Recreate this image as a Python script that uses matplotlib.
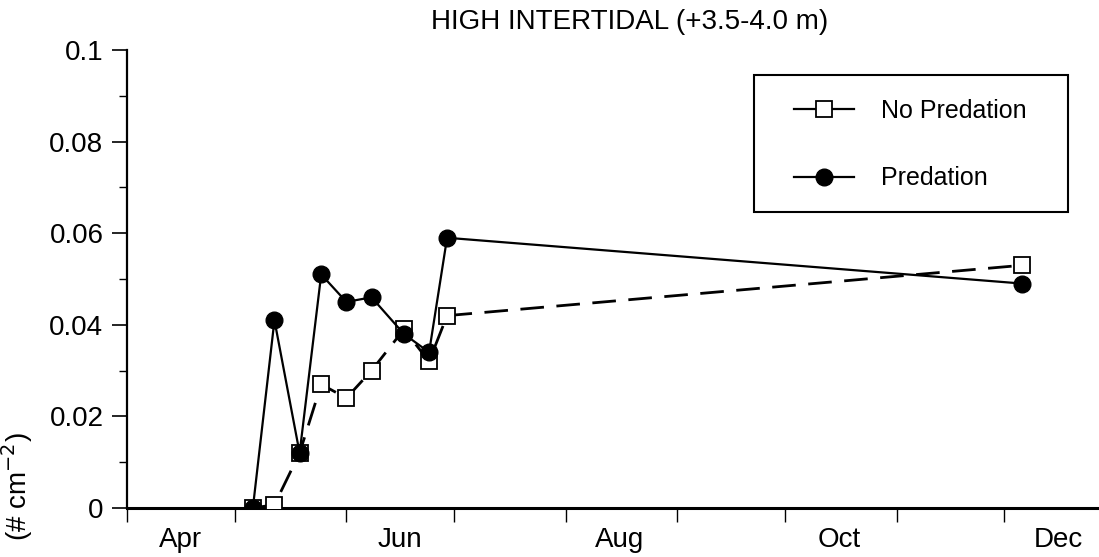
import matplotlib
matplotlib.use("Agg")
import matplotlib.pyplot as plt
import matplotlib.dates as mdates
from matplotlib.lines import Line2D
from matplotlib.patches import Rectangle
from matplotlib.ticker import MultipleLocator, FuncFormatter
from datetime import datetime

plt.rcParams['font.family'] = ['Liberation Sans', 'DejaVu Sans']

YEAR = 1997

# sampling dates (month-day) and recruit densities
sample_dates = ["05-06", "05-12", "05-19", "05-25", "06-01", "06-08",
                "06-17", "06-24", "06-29", "12-06"]
no_predation = [0.0, 0.0007, 0.012, 0.027, 0.024, 0.030, 0.039, 0.032, 0.042, 0.053]
predation = [0.0, 0.041, 0.012, 0.051, 0.045, 0.046, 0.038, 0.034, 0.059, 0.049]

month_labels = ["Apr", "Jun", "Aug", "Oct", "Dec"]
label_months = [4, 6, 8, 10, 12]
y_ticks = [0, 0.02, 0.04, 0.06, 0.08, 0.1]

dates = [datetime.strptime(f"{YEAR}-{d}", "%Y-%m-%d") for d in sample_dates]

fig = plt.figure(figsize=(10.99, 5.57), dpi=100)
ax = fig.add_axes([127 / 1099, 1 - 508 / 557, (1098 - 127) / 1099, (508 - 50) / 557])

ax.plot(dates, no_predation, color='black', lw=2, dashes=(8.5, 4.5),
        marker='s', ms=12, mfc='white', mec='black', mew=1.3, zorder=3)
ax.plot(dates, predation, color='black', lw=1.6, linestyle='-',
        marker='o', ms=12, mfc='black', mec='black', zorder=4)

# axes limits and spines
ax.set_xlim(datetime(YEAR, 4, 1), datetime(YEAR, 12, 27))
ax.set_ylim(0, 0.1)
ax.spines['top'].set_visible(False)
ax.spines['right'].set_visible(False)
ax.spines['left'].set_linewidth(1.6)
ax.spines['bottom'].set_linewidth(2.2)

# month boundaries as ticks, labels centred in alternate months
ax.xaxis.set_major_locator(mdates.MonthLocator())
ax.xaxis.set_major_formatter(plt.NullFormatter())
ax.set_xticks([datetime(YEAR, m, 16) for m in label_months], minor=True)
ax.set_xticklabels(month_labels, minor=True)
ax.tick_params(axis='x', which='major', direction='out', length=10, width=1.0)
ax.tick_params(axis='x', which='minor', length=0, pad=14, labelsize=20)

ax.set_yticks(y_ticks)
ax.yaxis.set_major_formatter(FuncFormatter(lambda v, p: f"{v:g}"))
ax.yaxis.set_minor_locator(MultipleLocator(0.01))
ax.tick_params(axis='y', which='major', direction='out', length=11, width=1.2,
               labelsize=20, pad=6)
ax.tick_params(axis='y', which='minor', direction='out', length=6, width=1.0)

fig.text(630 / 1099, 1 - 22 / 557, "HIGH INTERTIDAL (+3.5-4.0 m)",
         ha='center', va='center', fontsize=20)
fig.text(17 / 1099, 1 - 432 / 557, "(# cm$^{-2}$)", rotation=90,
         ha='center', va='top', fontsize=20)

# legend with a square frame
handles = [
    Line2D([], [], color='black', lw=1.6, marker='s', ms=11, mfc='white', mec='black', mew=1.3),
    Line2D([], [], color='black', lw=1.6, marker='o', ms=12, mfc='black'),
]
fig.legend(handles, ["No Predation", "Predation"], loc='upper left',
           bbox_to_anchor=(771 / 1099, 1 - 76 / 557), frameon=False,
           fontsize=18, handlelength=2.4, handletextpad=1.1, labelspacing=1.75)
fig.patches.append(Rectangle((754 / 1099, 1 - 212 / 557), (1068 - 754) / 1099,
                             (212 - 75) / 557, transform=fig.transFigure,
                             fill=False, ec='black', lw=1.5))

fig.savefig("out.png", dpi=100)
